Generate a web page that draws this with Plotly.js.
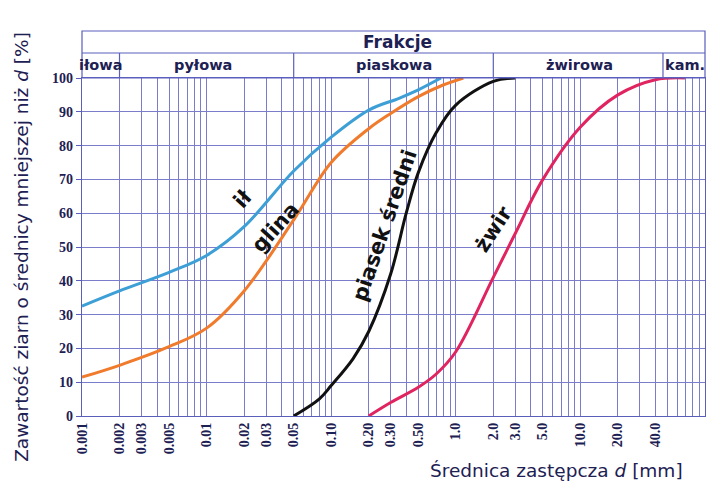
<!DOCTYPE html>
<html>
<head>
<meta charset="utf-8">
<script src="https://cdn.plot.ly/plotly-3.0.1.min.js"></script>
<style>html,body{margin:0;padding:0;background:#fff;}#chart{width:709px;height:488px;}</style>
</head>
<body>
<div id="chart"></div>
<script>
// ---- data ----
const ilX = [0.001, 0.002, 0.005, 0.01, 0.02, 0.05, 0.1, 0.2, 0.35, 0.5, 0.76];
const ilY = [32.5, 37, 42.5, 47.5, 56, 72.5, 82.5, 90.5, 94, 96.5, 100];

const glinaX = [0.001, 0.002, 0.005, 0.01, 0.02, 0.05, 0.1, 0.2, 0.3, 0.5, 0.8, 1.15];
const glinaY = [11.5, 15, 20.5, 26, 37, 58, 75, 85, 89.5, 94.5, 98, 100];

const piasekX = [0.05, 0.08, 0.1, 0.15, 0.2, 0.3, 0.4, 0.5, 0.7, 1.0, 2.0, 3.0];
const piasekY = [0, 5, 9, 17, 25, 42, 60, 72, 84, 92, 99, 100];

const zwirX = [0.2, 0.3, 0.5, 0.7, 1.0, 2.0, 3.0, 5.0, 10, 20, 40, 69];
const zwirY = [0, 4, 8.5, 12.5, 19, 41, 54, 70, 85.5, 95, 99.5, 100];

const xTickVals = [0.001, 0.002, 0.003, 0.005, 0.01, 0.02, 0.03, 0.05, 0.1, 0.2, 0.3, 0.5, 1, 2, 3, 5, 10, 20, 40];
const xTickText = ["0.001", "0.002", "0.003", "0.005", "0.01", "0.02", "0.03", "0.05", "0.10", "0.20", "0.30", "0.50", "1.0", "2.0", "3.0", "5.0", "10.0", "20.0", "40.0"];
const yTickVals = [0, 10, 20, 30, 40, 50, 60, 70, 80, 90, 100];

const fractionNames = ["iłowa", "pyłowa", "piaskowa", "żwirowa", "kam."];
const fractionBounds = [0.002, 0.05, 2, 46];

const curveNames = ["ił", "glina", "piasek średni", "żwir"];
const curveColors = ["#3d9fd6", "#f07b2c", "#111111", "#e0245f"];

// ---- minor grid positions (1..9 x each decade) ----
const minorVals = [];
for (let e = -3; e <= 1; e++) for (let k = 1; k <= 9; k++) minorVals.push(k * Math.pow(10, e));
minorVals.push(100);

const gridCol = "rgb(124,124,204)";
const navy = "#1d2052";

const series = [[ilX, ilY], [glinaX, glinaY], [piasekX, piasekY], [zwirX, zwirY]];
const traces = series.map((s, i) => ({
  x: s[0], y: s[1], type: "scatter", mode: "lines", name: curveNames[i],
  line: {color: curveColors[i], width: 3, shape: "spline", smoothing: 1},
  hoverinfo: "skip", cliponaxis: false
}));

const fracCenters = [0.031, 0.194, 0.501, 0.799, 0.968];
const annotations = [
  {text: "Frakcje", xref: "paper", yref: "paper", x: 0.507, y: 1.106, xanchor: "center", yanchor: "middle",
   showarrow: false, font: {family: "DejaVu Sans", size: 17, color: navy, weight: "bold"}},
  {text: "Średnica zastępcza <i>d</i> [mm]", xref: "paper", yref: "paper", x: 0.762, y: -0.16,
   xanchor: "center", yanchor: "middle",
   showarrow: false, font: {family: "DejaVu Sans", size: 18.5, color: navy}}
];
fractionNames.forEach((n, i) => annotations.push({
  text: n, xref: "paper", yref: "paper", x: fracCenters[i], y: 1.037, xanchor: "center", yanchor: "middle",
  showarrow: false, font: {family: "DejaVu Sans", size: 14.5, color: navy, weight: "bold"}
}));
const labelPos = [[0.258, 0.642, -48], [0.311, 0.559, -48], [0.486, 0.565, -71], [0.661, 0.552, -57]];
curveNames.forEach((n, i) => annotations.push({
  text: n, xref: "paper", yref: "paper", x: labelPos[i][0], y: labelPos[i][1], textangle: labelPos[i][2],
  xanchor: "center", yanchor: "middle",
  showarrow: false, font: {family: "DejaVu Sans", size: 21, color: "#111111", weight: "bold"}
}));

const lineCol = "#5a5fbc";
const shapes = [
  {type: "rect", xref: "paper", yref: "paper", x0: 0, x1: 1, y0: 1, y1: 1.139, line: {color: lineCol, width: 1.2}},
  {type: "line", xref: "paper", yref: "paper", x0: 0, x1: 1, y0: 1.074, y1: 1.074, line: {color: lineCol, width: 1.2}}
];
fractionBounds.forEach(b => shapes.push({
  type: "line", xref: "x", yref: "paper", x0: b, x1: b, y0: 1, y1: 1.074, line: {color: lineCol, width: 1.2}
}));

const layout = {
  width: 709, height: 488,
  margin: {l: 82, r: 4, t: 78, b: 72, pad: 0},
  paper_bgcolor: "#ffffff", plot_bgcolor: "#ffffff",
  showlegend: false,
  xaxis: {
    type: "log", range: [-3, 2], tickmode: "array", tickvals: xTickVals, ticktext: xTickText,
    tickangle: -90, ticks: "", tickfont: {family: "Liberation Serif", size: 14, color: navy, weight: "bold"},
    showgrid: true, gridcolor: gridCol, gridwidth: 1,
    minor: {tickmode: "array", tickvals: minorVals, showgrid: true, gridcolor: gridCol, gridwidth: 1, ticks: ""},
    showline: true, linecolor: lineCol, linewidth: 1.2, mirror: true, zeroline: false
  },
  yaxis: {
    range: [0, 100], tickmode: "array", tickvals: yTickVals, ticks: "outside", ticklen: 5, tickcolor: lineCol,
    tickfont: {family: "Liberation Serif", size: 14, color: navy, weight: "bold"},
    showgrid: true, gridcolor: gridCol, gridwidth: 1,
    showline: true, linecolor: lineCol, linewidth: 1.2, mirror: true, zeroline: false,
    title: {text: "Zawartość ziarn o średnicy mniejszej niż <i>d</i> [%]", standoff: 18,
      font: {family: "DejaVu Sans", size: 18.5, color: navy}}
  },
  shapes: shapes,
  annotations: annotations
};

Plotly.newPlot("chart", traces, layout, {staticPlot: true, displayModeBar: false});
</script>
</body>
</html>
